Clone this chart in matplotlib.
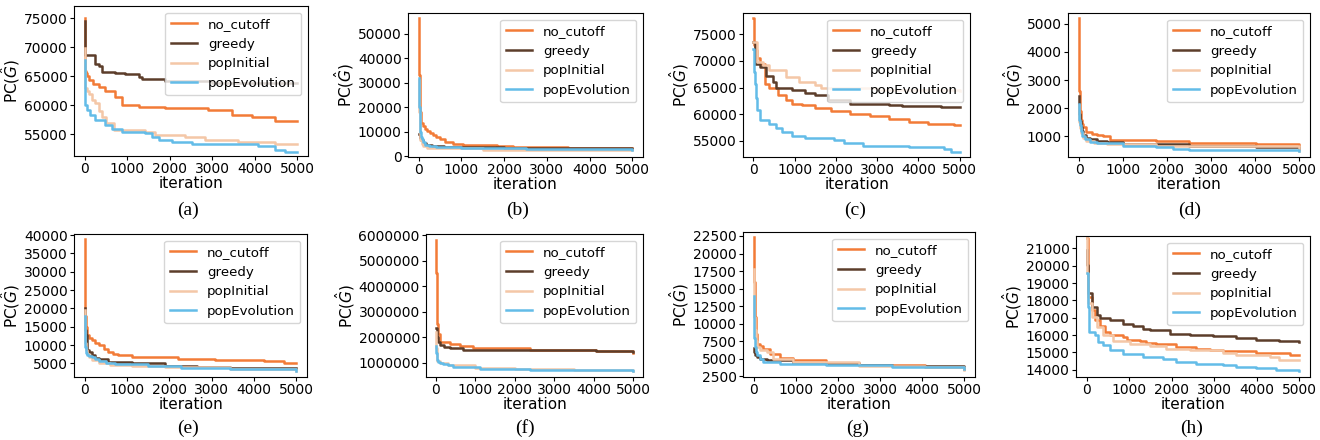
import matplotlib
matplotlib.use("Agg")
import matplotlib.pyplot as plt
from matplotlib.ticker import MultipleLocator

# series names / colours
names = ["no_cutoff", "greedy", "popInitial", "popEvolution"]
colors = ["#F27B37", "#5C3D2A", "#F4C7A7", "#63BCE8"]

# (a)
a_nc_x = [0, 5, 10, 30, 60, 100, 200, 330, 490, 720, 875, 1270, 1890, 2910, 3460, 3930, 4470, 5000]
a_nc_y = [75000, 70000, 66000, 65500, 65000, 64400, 63600, 63100, 62400, 61500, 60100, 59800, 59500, 59200, 58300, 58050, 57350, 57350]
a_gr_x = [0, 5, 20, 250, 330, 400, 720, 950, 1270, 1350, 1890, 3000, 5000]
a_gr_y = [74500, 70000, 68700, 67200, 66700, 65800, 65600, 65400, 64900, 64500, 64200, 63800, 63800]
a_pi_x = [0, 5, 15, 50, 100, 180, 250, 330, 400, 500, 700, 1420, 1650, 2350, 2820, 3600, 4470, 5000]
a_pi_y = [69800, 66000, 63000, 62500, 62000, 61000, 60500, 59000, 58000, 57000, 55800, 55400, 54900, 54500, 54000, 53700, 53300, 53300]
a_pe_x = [0, 5, 10, 55, 133, 250, 485, 642, 876, 1424, 1581, 1737, 2050, 2520, 3302, 4085, 4476, 4711, 5000]
a_pe_y = [67800, 63000, 60000, 59200, 58300, 57500, 56600, 55900, 55500, 55200, 54600, 54100, 53700, 53450, 53300, 53000, 52300, 52000, 52000]

# (b)
b_nc_x = [0, 5, 10, 20, 30, 45, 60, 100, 150, 200, 260, 330, 415, 500, 610, 800, 1040, 1400, 1830, 2200, 2610, 3500, 5000]
b_nc_y = [56500, 45000, 33000, 24000, 18000, 15000, 13500, 12300, 11200, 10300, 9500, 8700, 8000, 7000, 5800, 5000, 4700, 4500, 4300, 3900, 3650, 3400, 3250]
b_gr_x = [0, 20, 60, 100, 180, 300, 600, 1000, 2000, 5000]
b_gr_y = [9000, 7500, 6500, 5500, 4800, 4300, 3900, 3600, 3400, 3100]
b_pi_x = [0, 10, 20, 40, 70, 100, 200, 400, 1500, 5000]
b_pi_y = [31000, 18000, 10000, 6500, 5000, 4000, 3500, 3200, 2700, 2600]
b_pe_x = [0, 10, 20, 30, 50, 70, 100, 150, 250, 400, 1000, 2500, 5000]
b_pe_y = [32000, 20000, 14000, 10000, 8000, 7000, 5800, 4800, 4200, 3800, 3200, 2800, 2500]

# (c)
c_nc_x = [0, 10, 20, 40, 80, 157, 274, 392, 588, 784, 940, 1175, 1490, 1880, 2350, 2820, 3290, 3760, 4230, 4860, 5000]
c_nc_y = [78000, 75000, 73000, 72000, 70500, 69500, 65750, 65000, 63560, 62750, 62000, 61700, 61250, 60560, 60100, 59600, 59200, 58560, 58250, 57940, 57940]
c_gr_x = [0, 40, 157, 313, 470, 550, 940, 1250, 1490, 1800, 2350, 3290, 3600, 4545, 5000]
c_gr_y = [73500, 69500, 68900, 67100, 66060, 65000, 64500, 64000, 63560, 62600, 62000, 61700, 61500, 61400, 61400]
c_pi_x = [0, 78, 235, 392, 784, 1100, 1490, 1650, 3000, 5000]
c_pi_y = [73500, 69800, 69200, 68250, 67000, 66060, 65440, 65000, 64600, 64300]
c_pe_x = [0, 20, 40, 60, 78, 157, 392, 550, 705, 940, 1250, 1960, 2200, 2660, 3760, 4620, 4780, 5000]
c_pe_y = [72300, 68000, 65750, 63000, 60750, 58900, 58250, 57500, 56700, 55900, 55600, 55100, 54600, 54060, 53875, 53440, 52940, 52940]

# (d)
d_nc_x = [0, 10, 20, 40, 70, 100, 170, 300, 400, 550, 700, 1000, 1760, 2510, 4020, 5000]
d_nc_y = [5200, 2600, 1900, 1590, 1450, 1350, 1140, 1100, 1060, 1000, 880, 860, 825, 765, 730, 700]
d_gr_x = [0, 10, 20, 40, 70, 100, 170, 250, 400, 630, 1000, 2510, 4020, 5000]
d_gr_y = [2450, 1800, 1550, 1350, 1200, 1060, 960, 900, 840, 790, 730, 650, 620, 560]
d_pi_x = [0, 10, 20, 40, 80, 170, 350, 630, 1760, 5000]
d_pi_y = [2100, 1500, 1300, 1120, 950, 830, 780, 740, 650, 500]
d_pe_x = [0, 10, 20, 40, 70, 130, 250, 400, 1000, 1760, 2130, 2510, 5000]
d_pe_y = [2150, 1600, 1400, 1180, 1020, 900, 820, 765, 670, 620, 560, 530, 500]

# (e)
e_nc_x = [0, 10, 20, 30, 55, 100, 170, 250, 330, 450, 560, 680, 800, 1110, 2130, 2200, 3070, 4240, 4710, 5000]
e_nc_y = [39000, 25000, 18000, 15000, 12700, 12000, 11360, 10700, 10000, 9000, 8180, 7700, 7270, 6800, 6640, 6090, 5900, 5640, 5180, 5000]
e_gr_x = [0, 10, 20, 30, 55, 100, 170, 250, 330, 560, 1110, 1890, 2660, 3440, 5000]
e_gr_y = [20000, 16000, 14000, 12700, 8640, 8000, 7270, 6600, 6090, 5450, 5000, 4360, 4090, 3820, 3640]
e_pi_x = [0, 10, 20, 30, 60, 100, 170, 330, 600, 1110, 1890, 3440, 5000]
e_pi_y = [19500, 14000, 10500, 8640, 7500, 6700, 5900, 5000, 4700, 4360, 3900, 3360, 3000]
e_pe_x = [0, 10, 20, 30, 60, 100, 170, 250, 330, 500, 720, 1500, 2280, 3440, 5000]
e_pe_y = [18000, 12500, 9500, 7730, 7300, 7000, 6640, 6100, 5640, 5200, 4820, 4360, 3820, 3450, 3000]

# (f)
f_nc_x = [0, 5, 10, 17, 25, 34, 45, 60, 100, 355, 610, 945, 2380, 4070, 5000]
f_nc_y = [5800000, 5000000, 4500000, 3980000, 3200000, 2540000, 2300000, 2150000, 1820000, 1730000, 1650000, 1590000, 1520000, 1460000, 1400000]
f_gr_x = [0, 20, 34, 60, 100, 200, 355, 690, 2380, 4070, 5000]
f_gr_y = [2350000, 2200000, 2000000, 1800000, 1690000, 1630000, 1590000, 1520000, 1500000, 1460000, 1430000]
f_pi_x = [0, 10, 20, 40, 100, 300, 1000, 2000, 3500, 5000]
f_pi_y = [2200000, 1600000, 1200000, 1080000, 1000000, 920000, 820000, 760000, 740000, 680000]
f_pe_x = [0, 10, 17, 30, 60, 100, 190, 300, 440, 1115, 2380, 4070, 5000]
f_pe_y = [1650000, 1400000, 1230000, 1120000, 1040000, 1000000, 970000, 900000, 840000, 780000, 740000, 710000, 690000]

# (g)
g_nc_x = [0, 10, 20, 30, 40, 55, 78, 150, 235, 390, 630, 940, 1720, 2510, 4075, 5000]
g_nc_y = [22300, 19000, 16000, 13000, 10950, 8500, 7160, 6800, 6440, 5730, 5110, 4780, 4400, 4160, 3830, 3640]
g_gr_x = [0, 20, 40, 78, 150, 310, 940, 2510, 3290, 5000]
g_gr_y = [6500, 6000, 5600, 5260, 5000, 4780, 4400, 4070, 3970, 3590]
g_pi_x = [0, 10, 20, 40, 60, 78, 150, 310, 470, 940, 2510, 4075, 5000]
g_pi_y = [17850, 14000, 11000, 9060, 7500, 6680, 6300, 5970, 5020, 4540, 3970, 3830, 3360]
g_pe_x = [0, 10, 20, 40, 60, 78, 150, 235, 630, 1720, 3290, 5000]
g_pe_y = [13900, 10000, 8000, 6680, 5900, 5490, 4900, 4540, 4300, 4070, 3830, 3500]

# (h)
h_nc_x = [0, 40, 117, 195, 312, 430, 547, 860, 940, 1250, 1400, 1640, 2110, 2580, 2890, 3200, 3980, 4770, 5000]
h_nc_y = [21600, 18200, 17430, 16850, 16500, 16180, 15990, 15890, 15740, 15660, 15540, 15470, 15310, 15180, 15120, 15080, 14980, 14830, 14830]
h_gr_x = [0, 15, 40, 117, 234, 312, 547, 860, 1100, 1330, 1480, 1950, 2420, 2970, 3520, 3980, 4530, 5000]
h_gr_y = [20900, 20040, 18400, 17630, 17140, 17000, 16850, 16660, 16500, 16370, 16280, 16080, 16030, 15930, 15800, 15740, 15660, 15620]
h_pi_x = [0, 15, 40, 117, 234, 390, 625, 1015, 1480, 1875, 2420, 3200, 3520, 4300, 4530, 5000]
h_pi_y = [21600, 19560, 17820, 17050, 16470, 15990, 15660, 15510, 15350, 15220, 15120, 14970, 14830, 14730, 14540, 14540]
h_pe_x = [0, 23, 47, 195, 273, 390, 547, 860, 1330, 1800, 2110, 2580, 3200, 3520, 3980, 4450, 5000]
h_pe_y = [19550, 17630, 16180, 15990, 15600, 15410, 15120, 14890, 14730, 14640, 14440, 14350, 14250, 14150, 14120, 13960, 13900]

captions = ["(a)", "(b)", "(c)", "(d)", "(e)", "(f)", "(g)", "(h)"]
ylims = [(51300, 77100), (-300, 58500), (52000, 79000), (270, 5380),
         (1300, 40300), (450000, 6040000), (2400, 23070), (13580, 21710)]
ystep = [5000, 10000, 5000, 1000, 5000, 1000000, 2500, 1000]

series = [
    [(a_nc_x, a_nc_y), (a_gr_x, a_gr_y), (a_pi_x, a_pi_y), (a_pe_x, a_pe_y)],
    [(b_nc_x, b_nc_y), (b_gr_x, b_gr_y), (b_pi_x, b_pi_y), (b_pe_x, b_pe_y)],
    [(c_nc_x, c_nc_y), (c_gr_x, c_gr_y), (c_pi_x, c_pi_y), (c_pe_x, c_pe_y)],
    [(d_nc_x, d_nc_y), (d_gr_x, d_gr_y), (d_pi_x, d_pi_y), (d_pe_x, d_pe_y)],
    [(e_nc_x, e_nc_y), (e_gr_x, e_gr_y), (e_pi_x, e_pi_y), (e_pe_x, e_pe_y)],
    [(f_nc_x, f_nc_y), (f_gr_x, f_gr_y), (f_pi_x, f_pi_y), (f_pe_x, f_pe_y)],
    [(g_nc_x, g_nc_y), (g_gr_x, g_gr_y), (g_pi_x, g_pi_y), (g_pe_x, g_pe_y)],
    [(h_nc_x, h_nc_y), (h_gr_x, h_gr_y), (h_pi_x, h_pi_y), (h_pe_x, h_pe_y)],
]

# axes boxes in pixels: left, right, top, bottom
W, H = 1320, 440
boxes = [(74, 308, 6, 156), (408, 643, 13, 157), (743, 970, 13, 157), (1068, 1310, 13, 157),
         (74, 307, 234, 377), (426, 643, 234, 377), (743, 975, 232, 377), (1076, 1310, 236, 377)]
cap_pos = [(188, 210), (518, 210), (855, 210), (1190, 210),
           (188, 428), (525, 428), (858, 428), (1192, 428)]

fig = plt.figure(figsize=(13.2, 4.4), dpi=100)

for i in range(8):
    l, r, t, b = boxes[i]
    ax = fig.add_axes([l / W, 1 - b / H, (r - l) / W, (b - t) / H])
    for (x, y), name, c in zip(series[i], names, colors):
        ax.plot(x, y, drawstyle="steps-post", color=c, lw=1.8, label=name)
    ax.set_ylim(*ylims[i])
    ax.yaxis.set_major_locator(MultipleLocator(ystep[i]))
    ax.ticklabel_format(axis="y", style="plain", useOffset=False)
    ax.set_xticks([0, 1000, 2000, 3000, 4000, 5000])
    ax.tick_params(labelsize=10, pad=1.5, length=3)
    ax.set_xlabel("iteration", fontsize=11, labelpad=0)
    ax.set_ylabel(r"PC($\hat{G}$)", fontsize=11, labelpad=1)
    ax.legend(loc="upper right", fontsize=9.6)
    cx, cy = cap_pos[i]
    fig.text(cx / W, 1 - cy / H, captions[i], ha="center", va="center",
             fontsize=14, family="Liberation Serif")

fig.savefig("out.png", dpi=100)
